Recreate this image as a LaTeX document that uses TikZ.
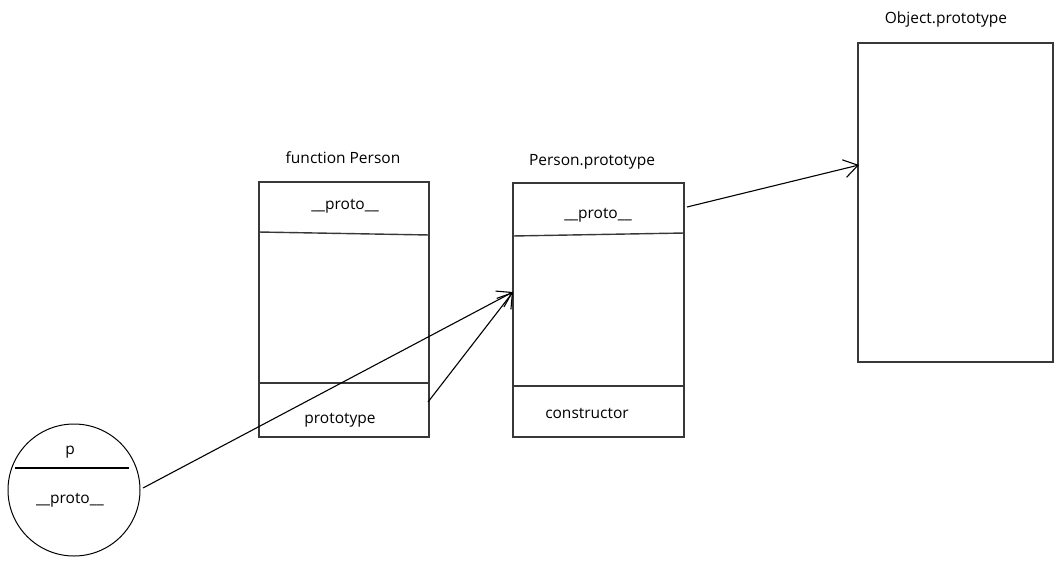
\documentclass[tikz,border=0pt]{standalone}
\usepackage{fontspec}
\setmainfont{Open Sans}
\usetikzlibrary{arrows.meta}
\definecolor{boxline}{HTML}{383838}
\tikzset{
  boxframe/.style={draw=boxline, line width=1.6pt},
  divider/.style={draw=boxline, line width=1.4pt},
  lbl/.style={font=\fontsize{15.5}{18}\selectfont, inner sep=0pt, text=black},
  link/.style={draw=black, line width=1.1pt, -{Straight Barb[length=14pt,width=18pt,line width=1.1pt]}},
  plain/.style={draw=black, line width=1.3pt}
}
\begin{document}
\begin{tikzpicture}[x=1pt,y=-1pt]
\useasboundingbox (0,0) rectangle (1063,563);
% circle p
\node[draw=black, line width=1pt, circle, minimum size=132pt, inner sep=0pt] (pc) at (74,490) {};
\draw[plain] (15,468) -- (129,468);
\node[lbl] (plbl) at (70,452) {p};
\node[lbl] (pproto) at (70,500) {\_\_proto\_\_};
% function Person
\node[boxframe, minimum width=170pt, minimum height=255pt, inner sep=0pt] (fp) at (344,309.5) {};
\draw[divider] (fp.north west |- 0,232) -- (fp.north east |- 0,235);
\draw[divider] (fp.north west |- 0,383) -- (fp.north east |- 0,383);
\node[lbl] (fptitle) at (343,158) {function Person};
\node[lbl] (fpproto) at (345,206) {\_\_proto\_\_};
\node[lbl] (fpprot) at (340,420) {prototype};
% Person.prototype
\node[boxframe, minimum width=171pt, minimum height=254pt, inner sep=0pt] (pp) at (598.5,310) {};
\draw[divider] (pp.north west |- 0,236) -- (pp.north east |- 0,233);
\draw[divider] (pp.north west |- 0,386) -- (pp.north east |- 0,386);
\node[lbl] (pptitle) at (592,162) {Person.prototype};
\node[lbl] (ppproto) at (598,215) {\_\_proto\_\_};
\node[lbl] (ppcons) at (587,413) {constructor};
% Object.prototype
\node[boxframe, minimum width=195pt, minimum height=319pt, inner sep=0pt] (op) at (955.5,202.5) {};
\node[lbl] (optitle) at (946,19) {Object.prototype};
% arrows
\coordinate (a1s) at (143,488);
\coordinate (a1e) at (513,292);
\coordinate (a2s) at (428,402);
\coordinate (a3s) at (687,207);
\coordinate (a3e) at (859,165);
\draw[link] (a1s) -- (a1e);
\draw[link] (a2s) -- (a1e);
\draw[link] (a3s) -- (a3e);
\end{tikzpicture}
\end{document}
